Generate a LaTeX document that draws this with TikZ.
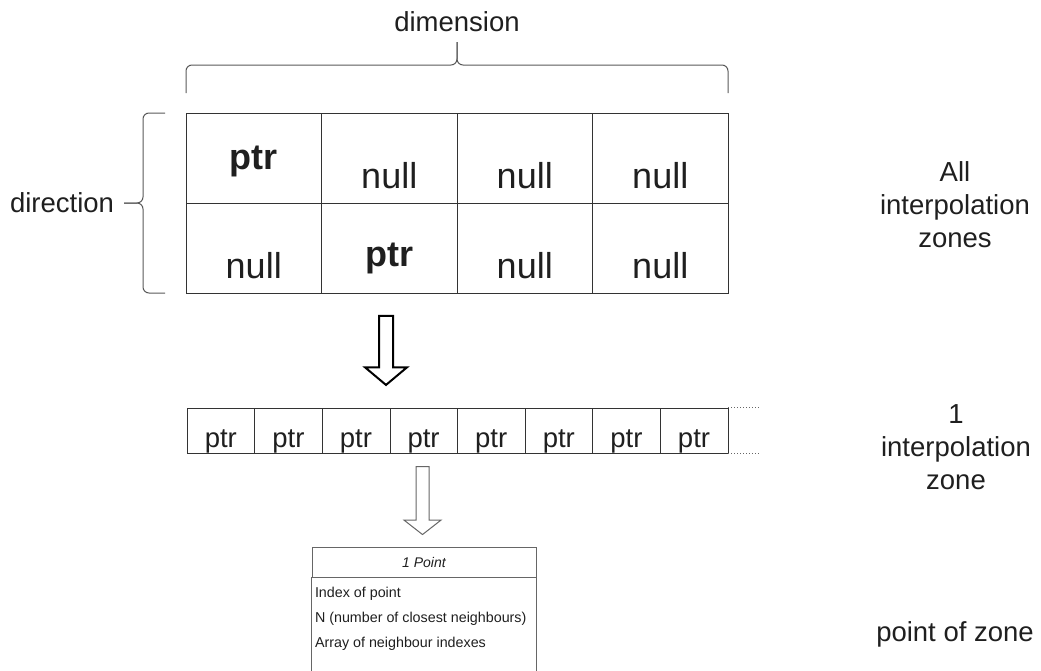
\documentclass[tikz,border=0pt]{standalone}
\usepackage{fontspec}
\setmainfont{Liberation Sans}
\usetikzlibrary{arrows.meta, positioning, calc, shapes.arrows}

\begin{document}
\begin{tikzpicture}[
x=1pt, y=-1pt,
every node/.style={text=black!88},
cell/.style={
rectangle,
draw=black!80,
minimum width=135.5pt,
minimum height=90pt,
inner sep=0pt,
text depth=0pt,
font=\fontsize{36}{40}\selectfont
},
slot/.style={
rectangle,
draw=black!80,
minimum width=67.6pt,
minimum height=45pt,
inner sep=0pt,
text height=33pt,
text depth=0pt,
font=\fontsize{27.5}{33}\selectfont
},
sidetext/.style={
align=center,
inner sep=0pt,
font=\fontsize{27.5}{33}\selectfont
},
brace/.style={draw=black!65, line width=1pt, rounded corners=6pt},
bigarrow/.style={
single arrow,
draw=black,
line width=2pt,
fill=white,
shape border rotate=270,
inner sep=6pt,
minimum height=69pt,
single arrow head extend=14pt,
single arrow tip angle=100
},
smallarrow/.style={
single arrow,
draw=black!60,
line width=1pt,
fill=white,
shape border rotate=270,
inner sep=6pt,
minimum height=68pt,
single arrow head extend=12pt,
single arrow tip angle=104
},
pointhead/.style={
rectangle,
draw=black!60,
minimum width=224pt,
minimum height=30pt,
inner sep=0pt,
font=\fontsize{14}{17}\selectfont\itshape
},
fields/.style={
align=left,
inner xsep=3pt,
inner ysep=10pt,
font=\fontsize{14.3}{25}\selectfont
},
boxline/.style={draw=black!60, line width=1pt}
]
\useasboundingbox (0,0) rectangle (1041,670);

% All zones
\node[cell, text height=22pt] (c11) at (253.75,158) {\textbf{ptr}};
\node[cell, text height=60pt] (c12) at (389.25,158) {null};
\node[cell, text height=60pt] (c13) at (524.75,158) {null};
\node[cell, text height=60pt] (c14) at (660.25,158) {null};

\node[cell, text height=60pt] (c21) at (253.75,248) {null};
\node[cell, text height=36pt] (c22) at (389.25,248) {\textbf{ptr}};
\node[cell, text height=60pt] (c23) at (524.75,248) {null};
\node[cell, text height=60pt] (c24) at (660.25,248) {null};

% Braces
\draw[brace] (186,93) -- (186,65) -- (457,65) -- (457,42);
\draw[brace] (728,93) -- (728,65) -- (457,65) -- (457,42);

\draw[brace] (165,113) -- (143,113) -- (143,203) -- (124,203);
\draw[brace] (165,293) -- (143,293) -- (143,203) -- (124,203);

% Labels
\node[sidetext] (dimlabel) at (457,22) {dimension};
\node[sidetext] (dirlabel) at (62,203) {direction};
\node[sidetext] (allzones) at (955,205) {All\\interpolation\\zones};
\node[sidetext] (onezone) at (956,447) {1\\interpolation\\zone};
\node[sidetext] (zonepoint) at (955,634) {point of zone};

% One zone
\node[bigarrow] (down1) at (386,347.5) {};

\node[slot] (a1) at (220.8,430.5) {ptr};
\node[slot] (a2) at (288.4,430.5) {ptr};
\node[slot] (a3) at (356.0,430.5) {ptr};
\node[slot] (a4) at (423.6,430.5) {ptr};
\node[slot] (a5) at (491.2,430.5) {ptr};
\node[slot] (a6) at (558.8,430.5) {ptr};
\node[slot] (a7) at (626.4,430.5) {ptr};
\node[slot] (a8) at (694.0,430.5) {ptr};

\draw[dotted, draw=black!60, line width=1pt] (a8.north east) -- ++(31,0);
\draw[dotted, draw=black!60, line width=1pt] (a8.south east) -- ++(31,0);

% One point
\node[smallarrow] (down2) at (422.5,498) {};

\node[pointhead] (head) at (424,562) {1 Point};
\draw[boxline] (head.south west) -- ++(0,110);
\draw[boxline] (head.south east) -- ++(0,110);

\node[fields, anchor=north west] (fields) at (head.south west)
{Index of point\\N (number of closest neighbours)\\Array of neighbour indexes};

\end{tikzpicture}
\end{document}
